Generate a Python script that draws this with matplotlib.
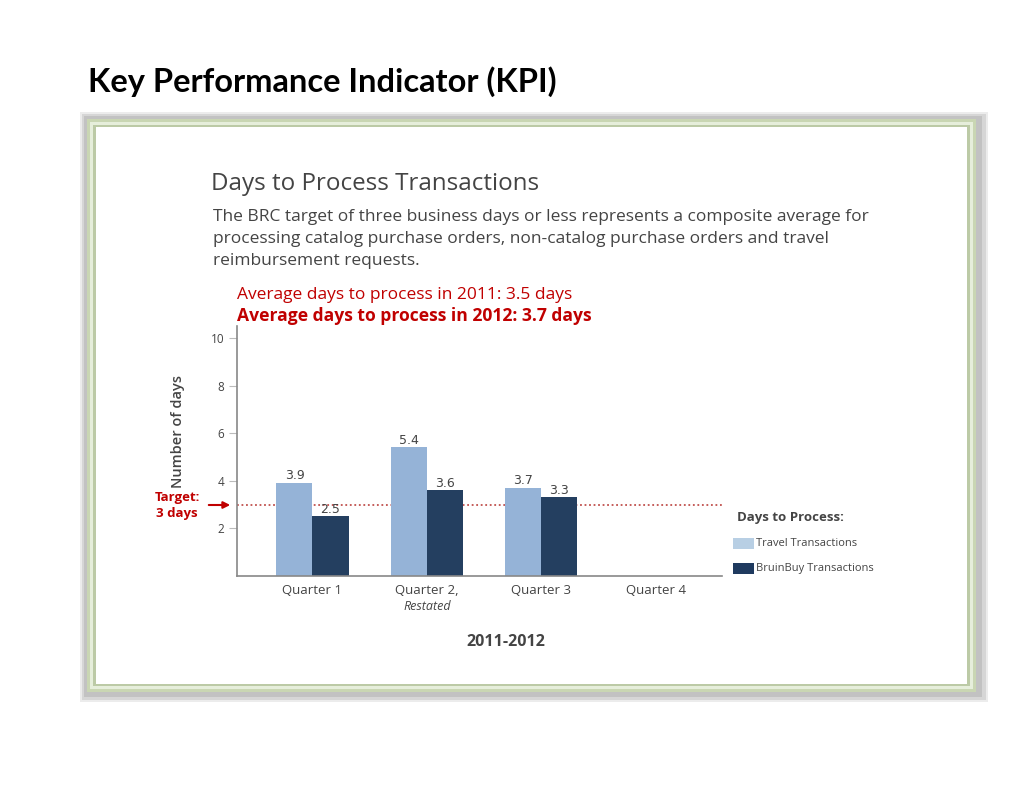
import matplotlib
matplotlib.use("Agg")
import matplotlib.pyplot as plt
from matplotlib.patches import Rectangle, FancyArrowPatch
import numpy as np

categories = ["Quarter 1", "Quarter 2,", "Quarter 3", "Quarter 4"]
travel = [3.9, 5.4, 3.7, None]
bruinbuy = [2.5, 3.6, 3.3, None]
target = 3
yticks = [2, 4, 6, 8, 10]

W, H = 1024, 791
fig = plt.figure(figsize=(W / 100, H / 100), dpi=100)
fig.patch.set_facecolor("white")

def px_rect(x0, y0, x1, y1, **kw):
    r = Rectangle((x0 / W, 1 - y1 / H), (x1 - x0) / W, (y1 - y0) / H,
                  transform=fig.transFigure, **kw)
    fig.add_artist(r)

# frame with soft shadow
px_rect(80, 112, 988, 702, facecolor="#ececec", edgecolor="none", zorder=0)
px_rect(82, 114, 986, 700, facecolor="#d6d6d6", edgecolor="none", zorder=0)
px_rect(84, 116, 982, 697, facecolor="#c2c2c2", edgecolor="none", zorder=0)
px_rect(87, 119, 976, 692, facecolor="#c9d6b3", edgecolor="none", zorder=0)
px_rect(90, 122, 973, 689, facecolor="#e6eedb", edgecolor="none", zorder=0)
px_rect(93, 125, 970, 686, facecolor="#bccaa6", edgecolor="none", zorder=0)
px_rect(96, 127, 967, 684, facecolor="white", edgecolor="none", zorder=0)

fs = "Open Sans"
gray = "#444444"
red = "#c00000"

fig.text(88 / W, 1 - 82 / H, "Key Performance Indicator (KPI)", fontsize=23.5,
         fontweight="bold", family="Lato", color="black", va="center", ha="left")
fig.text(211 / W, 1 - 184 / H, "Days to Process Transactions", fontsize=17.4,
         family=fs, color=gray, va="center", ha="left")
para = ["The BRC target of three business days or less represents a composite average for",
        "processing catalog purchase orders, non-catalog purchase orders and travel",
        "reimbursement requests."]
for i, line in enumerate(para):
    fig.text(213 / W, 1 - (217 + 22 * i) / H, line, fontsize=12.5, family=fs,
             color=gray, va="center", ha="left")
fig.text(237 / W, 1 - 295 / H, "Average days to process in 2011: 3.5 days",
         fontsize=12.5, family=fs, color=red, va="center", ha="left")
fig.text(237 / W, 1 - 316 / H, "Average days to process in 2012: 3.7 days",
         fontsize=12.6, family=fs, color=red, va="center", ha="left", fontweight="bold")

ax = fig.add_axes([237 / W, 1 - 576 / H, (722 - 237) / W, (576 - 326) / H])
ax.set_facecolor("none")
x = np.arange(len(categories))
bw = 0.315
tv = [v if v is not None else 0 for v in travel]
bv = [v if v is not None else 0 for v in bruinbuy]
ax.bar(x - bw / 2, tv, bw, color="#95b3d7", edgecolor="none", zorder=2)
ax.bar(x + bw / 2, bv, bw, color="#243f60", edgecolor="none", zorder=2)
for i in range(len(categories)):
    if travel[i] is not None:
        ax.text(x[i] - bw / 2, travel[i] + 0.03, f"{travel[i]}", ha="center", va="bottom",
                fontsize=9, color=gray, family="DejaVu Sans")
    if bruinbuy[i] is not None:
        ax.text(x[i] + bw / 2, bruinbuy[i] + 0.03, f"{bruinbuy[i]}", ha="center", va="bottom",
                fontsize=9, color=gray, family="DejaVu Sans")
ax.axhline(target, color="#c0504d", linestyle=(0, (1, 1.5)), linewidth=1.3, zorder=1)

ax.set_xlim(-0.66, 3.58)
ax.set_ylim(0, 10.5)
ax.set_yticks(yticks)
ax.set_yticklabels([str(t) for t in yticks], fontsize=8.5, color=gray, family=fs)
ax.tick_params(axis="y", direction="out", length=6, color="#bbbbbb", pad=3)
ax.set_xticks(x)
ax.set_xticklabels(categories, fontsize=9.5, color=gray, family=fs)
ax.tick_params(axis="x", length=0, pad=6)
for s in ["top", "right"]:
    ax.spines[s].set_visible(False)
for s in ["left", "bottom"]:
    ax.spines[s].set_color("#888888")
    ax.spines[s].set_linewidth(1.2)

fig.text(427 / W, 1 - 606 / H, "Restated", fontsize=9, style="italic", family=fs,
         color=gray, ha="center", va="center")
fig.text(506 / W, 1 - 642 / H, "2011-2012", fontsize=11.5, fontweight="bold", family=fs,
         color=gray, ha="center", va="center")
fig.text(178 / W, 1 - 432 / H, "Number of days", fontsize=10.5, rotation=90, family=fs,
         color=gray, ha="center", va="center", fontweight="semibold")
fig.text(177 / W, 1 - 497 / H, "Target:", fontsize=9.5, fontweight="bold", family=fs,
         color=red, ha="center", va="center")
fig.text(177 / W, 1 - 514 / H, "3 days", fontsize=9.5, fontweight="bold", family=fs,
         color=red, ha="center", va="center")
arr = FancyArrowPatch((206 / W, 1 - 505 / H), (233 / W, 1 - 505 / H),
                      transform=fig.transFigure, arrowstyle="-|>", mutation_scale=10,
                      color=red, linewidth=1.5)
fig.add_artist(arr)

# legend
fig.text(737 / W, 1 - 518 / H, "Days to Process:", fontsize=9.5, fontweight="bold",
         family=fs, color=gray, ha="left", va="center")
px_rect(733, 538, 754, 549, facecolor="#b8cfe4", edgecolor="none", zorder=3)
px_rect(733, 563, 754, 574, facecolor="#1f3a5f", edgecolor="none", zorder=3)
fig.text(756 / W, 1 - 544 / H, "Travel Transactions", fontsize=8, family=fs,
         color=gray, ha="left", va="center")
fig.text(756 / W, 1 - 569 / H, "BruinBuy Transactions", fontsize=8, family=fs,
         color=gray, ha="left", va="center")

fig.savefig("out.png", dpi=100)
